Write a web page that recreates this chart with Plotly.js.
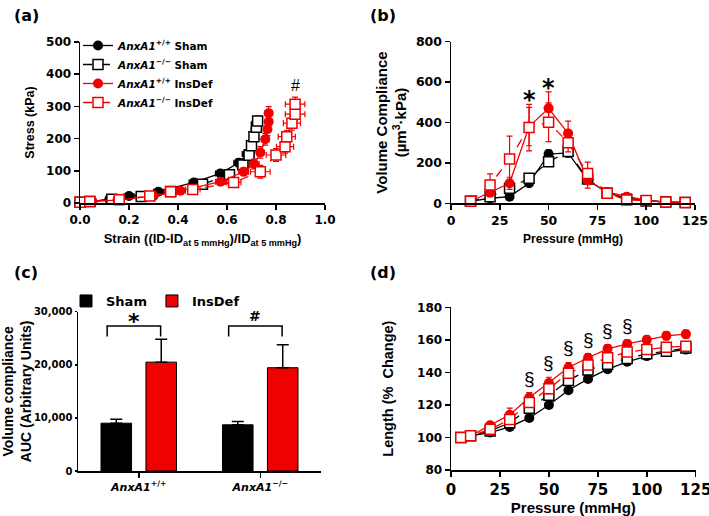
<!DOCTYPE html>
<html><head><meta charset="utf-8">
<script src="https://cdn.plot.ly/plotly-3.0.1.min.js"></script>
<style>html,body{margin:0;padding:0;background:#fff}#chart{width:709px;height:516px}</style>
</head><body><div id="chart"></div>
<script>
// ---------- Panel (a): stress vs strain ----------
const strainWtSham   = [0.00, 0.05, 0.12, 0.20, 0.32, 0.465, 0.573, 0.648, 0.682, 0.700, 0.710, 0.716, 0.720];
const stressWtSham   = [0, 4, 12, 22, 35, 64, 92, 125, 152, 180, 205, 230, 250];
const strainWtShamE  = [0.005, 0.01, 0.01, 0.02, 0.02, 0.02, 0.02, 0.02, 0.02, 0.015, 0.015, 0.01, 0.01];
const stressWtShamE  = [1, 2, 3, 4, 6, 8, 10, 12, 14, 15, 15, 15, 15];
const strainKoSham   = [0.00, 0.04, 0.13, 0.25, 0.37, 0.50, 0.61, 0.665, 0.690, 0.700, 0.710, 0.720, 0.725];
const stressKoSham   = [2, 5, 12, 20, 36, 58, 88, 118, 148, 178, 206, 235, 255];
const strainKoShamE  = [0.005, 0.01, 0.01, 0.02, 0.02, 0.02, 0.02, 0.02, 0.02, 0.015, 0.015, 0.015, 0.015];
const stressKoShamE  = [1, 2, 3, 4, 6, 8, 10, 12, 14, 15, 15, 15, 15];
const strainWtInsDef = [0.00, 0.05, 0.153, 0.30, 0.41, 0.573, 0.668, 0.711, 0.736, 0.756, 0.765, 0.770, 0.770];
const stressWtInsDef = [0, 5, 9, 22, 38, 66, 97, 121, 157, 198, 229, 252, 279];
const strainWtInsDefE= [0.005, 0.01, 0.015, 0.015, 0.02, 0.02, 0.02, 0.02, 0.015, 0.015, 0.01, 0.01, 0.01];
const stressWtInsDefE= [1, 2, 3, 5, 8, 10, 12, 15, 18, 18, 20, 20, 20];
const strainKoInsDef = [0.00, 0.04, 0.16, 0.285, 0.37, 0.46, 0.627, 0.736, 0.800, 0.837, 0.844, 0.865, 0.878, 0.878];
const stressKoInsDef = [2, 5, 10, 22, 35, 42, 64, 97, 149, 175, 206, 248, 276, 307];
const strainKoInsDefE= [0.005, 0.01, 0.02, 0.02, 0.025, 0.03, 0.03, 0.04, 0.04, 0.035, 0.035, 0.035, 0.04, 0.04];
const stressKoInsDefE= [2, 3, 5, 8, 10, 12, 15, 20, 20, 20, 20, 22, 22, 22];

// ---------- Panel (b): volume compliance vs pressure ----------
const pressureB        = [10, 20, 30, 40, 50, 60, 70, 80, 90, 100, 110, 120];
const compWtSham       = [10, 25, 33, 99, 244, 250, 115, 53, 25, 14, 6, 4];
const compWtShamE      = [3, 5, 8, 12, 20, 20, 15, 8, 5, 3, 2, 2];
const compKoSham       = [10, 33, 74, 124, 206, 256, 120, 50, 20, 12, 6, 4];
const compKoShamE      = [3, 8, 10, 20, 20, 25, 15, 8, 5, 3, 2, 2];
const compWtInsDef     = [10, 53, 99, 380, 470, 346, 115, 55, 33, 14, 6, 4];
const compWtInsDefE    = [5, 20, 30, 95, 82, 61, 40, 15, 8, 4, 2, 2];
const compKoInsDef     = [10, 91, 219, 375, 401, 300, 148, 50, 16, 14, 6, 4];
const compKoInsDefE    = [5, 55, 114, 115, 96, 45, 56, 15, 8, 4, 2, 2];

// ---------- Panel (c): AUC bars ----------
const groupLabels   = ['<i>AnxA1</i><sup>+/+</sup>', '<i>AnxA1</i><sup>\u2212/\u2212</sup>'];
const aucSham       = [9000, 8700];
const aucShamErr    = [750, 600];
const aucInsDef     = [20500, 19450];
const aucInsDefErr  = [4330, 4340];

// ---------- Panel (d): length vs pressure ----------
const pressureD      = [5, 10, 20, 30, 40, 50, 60, 70, 80, 90, 100, 110, 120];
const lenWtSham      = [100, 101, 103, 106.5, 112, 120, 129, 136, 142, 146.5, 150, 152.5, 154];
const lenWtShamE     = [0.5, 0.5, 1, 1, 1.5, 1.5, 1.5, 1.5, 1.5, 1.5, 1.5, 1.5, 1.5];
const lenKoSham      = [100, 101, 104, 109, 118, 126, 135, 141.5, 145, 148.5, 151.5, 153, 155];
const lenKoShamE     = [0.5, 0.5, 1, 1.5, 2, 2, 2, 2, 2, 2, 2, 2, 2];
const lenWtInsDef    = [100, 101, 107.5, 114, 124.5, 133.5, 143, 149, 154.5, 157.5, 160, 162.5, 163.5];
const lenWtInsDefE   = [0.5, 0.5, 2, 4, 3, 3.5, 3, 2.5, 2.5, 2.5, 2.5, 2.5, 2.5];
const lenKoInsDef    = [100, 101, 105, 111, 121.5, 130, 139.5, 144.5, 149, 152.5, 154, 155.5, 156];
const lenKoInsDefE   = [0.5, 0.5, 1.5, 3, 3, 3, 2.5, 2.5, 2.5, 2.5, 2.5, 2.5, 2.5];
const sigPressuresD  = [40, 50, 60, 70, 80, 90];

const seriesNames = ['<i>AnxA1</i><sup>+/+</sup> Sham', '<i>AnxA1</i><sup>\u2212/\u2212</sup> Sham',
                     '<i>AnxA1</i><sup>+/+</sup> InsDef', '<i>AnxA1</i><sup>\u2212/\u2212</sup> InsDef'];

// ---------- styles ----------
const BLACK = '#000000', RED = '#f00000';
const TICKF = 'DejaVu Sans', TITLEF = 'Liberation Sans, Arial, sans-serif';
const styles = [
  {color: BLACK, filled: true,  dash: 'solid'},
  {color: BLACK, filled: false, dash: 'dash'},
  {color: RED,   filled: true,  dash: 'solid'},
  {color: RED,   filled: false, dash: 'dash'}
];

function lineTrace(i, x, y, ey, ex, xa, ya, legend) {
  const s = styles[i];
  const t = {
    type: 'scatter', mode: 'lines+markers', x: x, y: y, name: seriesNames[i],
    xaxis: xa, yaxis: ya, cliponaxis: false, legendgroup: 'g' + i,
    showlegend: !!legend,
    line: {color: s.color, width: 1.3, dash: s.dash},
    marker: s.filled ? {symbol: 'circle', size: 10, color: s.color, line: {width: 0}}
                     : {symbol: 'square', size: 10, color: '#ffffff', line: {color: s.color, width: 1.5}},
    error_y: {type: 'data', array: ey, color: s.color, thickness: 1.2, width: 3}
  };
  if (ex) t.error_x = {type: 'data', array: ex, color: s.color, thickness: 1.2, width: 3};
  return t;
}

const traces = [];
// (a)
traces.push(lineTrace(0, strainWtSham, stressWtSham, stressWtShamE, strainWtShamE, 'x', 'y', true));
traces.push(lineTrace(1, strainKoSham, stressKoSham, stressKoShamE, strainKoShamE, 'x', 'y', true));
traces.push(lineTrace(2, strainWtInsDef, stressWtInsDef, stressWtInsDefE, strainWtInsDefE, 'x', 'y', true));
traces.push(lineTrace(3, strainKoInsDef, stressKoInsDef, stressKoInsDefE, strainKoInsDefE, 'x', 'y', true));
// (b)
traces.push(lineTrace(0, pressureB, compWtSham, compWtShamE, null, 'x2', 'y2'));
traces.push(lineTrace(1, pressureB, compKoSham, compKoShamE, null, 'x2', 'y2'));
traces.push(lineTrace(2, pressureB, compWtInsDef, compWtInsDefE, null, 'x2', 'y2'));
traces.push(lineTrace(3, pressureB, compKoInsDef, compKoInsDefE, null, 'x2', 'y2'));
// (d)
traces.push(lineTrace(0, pressureD, lenWtSham, lenWtShamE, null, 'x4', 'y4'));
traces.push(lineTrace(1, pressureD, lenKoSham, lenKoShamE, null, 'x4', 'y4'));
traces.push(lineTrace(2, pressureD, lenWtInsDef, lenWtInsDefE, null, 'x4', 'y4'));
traces.push(lineTrace(3, pressureD, lenKoInsDef, lenKoInsDefE, null, 'x4', 'y4'));
// (c)
const groupIdx = groupLabels.map((_, i) => i);
traces.push({type: 'bar', x: groupIdx, y: aucSham, name: 'Sham', xaxis: 'x3', yaxis: 'y3', legend: 'legend2',
  marker: {color: BLACK, line: {color: BLACK, width: 1}},
  error_y: {type: 'data', symmetric: false, array: aucShamErr, arrayminus: aucShamErr.map(() => 0), color: BLACK, thickness: 1.5, width: 6}});
traces.push({type: 'bar', x: groupIdx, y: aucInsDef, name: 'InsDef', xaxis: 'x3', yaxis: 'y3', legend: 'legend2',
  marker: {color: RED, line: {color: BLACK, width: 1}},
  error_y: {type: 'data', symmetric: false, array: aucInsDefErr, arrayminus: aucInsDefErr.map(() => 0), color: BLACK, thickness: 1.5, width: 6}});

// ---------- axes ----------
function ax(extra, tickSize, titleText, titleSize, standoff) {
  return Object.assign({
    showline: true, linecolor: BLACK, linewidth: 1.5, mirror: false,
    ticks: 'outside', ticklen: 5, tickwidth: 1.5, tickcolor: BLACK,
    showgrid: false, zeroline: false, fixedrange: true, ticklabeloverflow: 'allow',
    tickfont: {family: TICKF, size: tickSize, weight: 700, color: BLACK},
    title: {text: titleText, standoff: standoff, font: {family: TITLEF, size: titleSize, weight: 700, color: BLACK}}
  }, extra);
}

const shapes = [];
const annotations = [];
// brackets in (c)
const bracketTop = Math.max(...aucInsDef.map((v, i) => v + aucInsDefErr[i])) * 1.1;
const sigC = ['*', '#'];
groupIdx.forEach(i => {
  shapes.push({type: 'path', xref: 'x3', yref: 'y3', line: {color: BLACK, width: 1.5},
    path: `M${i - 0.26},${bracketTop - 2000} L${i - 0.26},${bracketTop} L${i + 0.18},${bracketTop} L${i + 0.18},${bracketTop - 2000}`});
  const isStar = sigC[i] === '*';
  annotations.push({xref: 'x3', yref: 'y3', x: i - 0.04, y: isStar ? bracketTop + 900 : bracketTop,
    yanchor: isStar ? 'middle' : 'bottom', showarrow: false,
    text: sigC[i], font: {family: TICKF, size: isStar ? 22 : 14, weight: 700, color: BLACK}});
});
// (b) asterisks at 40 and 50
[40, 50].forEach(p => {
  const k = pressureB.indexOf(p);
  const top = Math.max(compWtInsDef[k] + compWtInsDefE[k], compKoInsDef[k] + compKoInsDefE[k]);
  annotations.push({xref: 'x2', yref: 'y2', x: p, y: top + 20, yanchor: 'middle', showarrow: false,
    text: '*', font: {family: TICKF, size: 24, weight: 700, color: BLACK}});
});
// (a) hash
annotations.push({xref: 'x', yref: 'y', x: strainKoInsDef[strainKoInsDef.length - 1],
  y: stressKoInsDef[stressKoInsDef.length - 1] + 25, yanchor: 'bottom', showarrow: false,
  text: '#', font: {family: TITLEF, size: 16, color: BLACK}});
// (d) section marks
sigPressuresD.forEach(p => {
  const k = pressureD.indexOf(p);
  annotations.push({xref: 'x4', yref: 'y4', x: p, y: lenWtInsDef[k] + lenWtInsDefE[k] + 9, yanchor: 'middle', showarrow: false,
    text: '\u00a7', font: {family: TITLEF, size: 19, color: BLACK}});
});
// panel labels
[['(a)', 12, 15], ['(b)', 368, 15], ['(c)', 12, 272], ['(d)', 368, 272]].forEach(([t, px, py]) => {
  annotations.push({xref: 'paper', yref: 'paper', x: px / 709, y: 1 - py / 516, xanchor: 'left', yanchor: 'middle',
    showarrow: false, text: t, font: {family: TICKF, size: 16, weight: 700, color: BLACK}});
});

const layout = {
  width: 709, height: 516, margin: {l: 0, r: 0, t: 0, b: 0},
  paper_bgcolor: '#ffffff', plot_bgcolor: '#ffffff',
  barmode: 'group', bargap: 0.26, bargroupgap: 0.32,
  xaxis: ax({domain: [80 / 709, 325 / 709], anchor: 'y', range: [0, 1], dtick: 0.2, tickformat: '.1f'}, 12,
            'Strain ((ID-ID<sub>at 5 mmHg</sub>)/ID<sub>at 5 mmHg</sub>)', 13, 8),
  yaxis: ax({domain: [1 - 203 / 516, 1 - 42 / 516], anchor: 'x', range: [0, 500], dtick: 100}, 12, 'Stress (kPa)', 12.5, 8),
  xaxis2: ax({domain: [451 / 709, 695 / 709], anchor: 'y2', range: [0, 125], dtick: 25}, 12.5, 'Pressure (mmHg)', 12, 8),
  yaxis2: ax({domain: [1 - 203.3 / 516, 1 - 41.7 / 516], anchor: 'x2', range: [0, 800], dtick: 200}, 12.5,
            'Volume Compliance<br>(\u00b5m<sup>3</sup>\u00b7kPa)', 15, 5),
  xaxis3: ax({domain: [78 / 709, 321 / 709], anchor: 'y3', range: [-0.5, 1.5], tickvals: groupIdx, ticktext: groupLabels,
             tickfont: {family: TICKF, size: 11, weight: 700, color: BLACK}}, 11, '', 12, 5),
  yaxis3: ax({domain: [1 - 471 / 516, 1 - 311.7 / 516], anchor: 'x3', range: [0, 30000], dtick: 10000, tickformat: ',d', ticklen: 2}, 10,
            'Volume compliance<br>AUC (Arbitrary Units)', 14, 4),
  xaxis4: ax({domain: [451 / 709, 695.7 / 709], anchor: 'y4', range: [0, 125], dtick: 25}, 15, 'Pressure (mmHg)', 15, 8),
  yaxis4: ax({domain: [1 - 470 / 516, 1 - 307.3 / 516], anchor: 'x4', range: [80, 180], dtick: 20}, 12, 'Length (%  Change)', 14.5, 20),
  legend: {x: 78 / 709, y: 1 - 31 / 516, xanchor: 'left', yanchor: 'top', bgcolor: 'rgba(0,0,0,0)',
           font: {family: TICKF, size: 10.5, weight: 700, color: BLACK}, itemwidth: 30, tracegroupgap: 0},
  legend2: {x: 66 / 709, y: 1 - 286 / 516, xanchor: 'left', yanchor: 'top', orientation: 'h', bgcolor: 'rgba(0,0,0,0)',
            font: {family: TICKF, size: 13, weight: 700, color: BLACK}, itemwidth: 30},
  shapes: shapes, annotations: annotations, showlegend: true
};

Plotly.newPlot('chart', traces, layout, {staticPlot: true, displayModeBar: false});
</script></body></html>
